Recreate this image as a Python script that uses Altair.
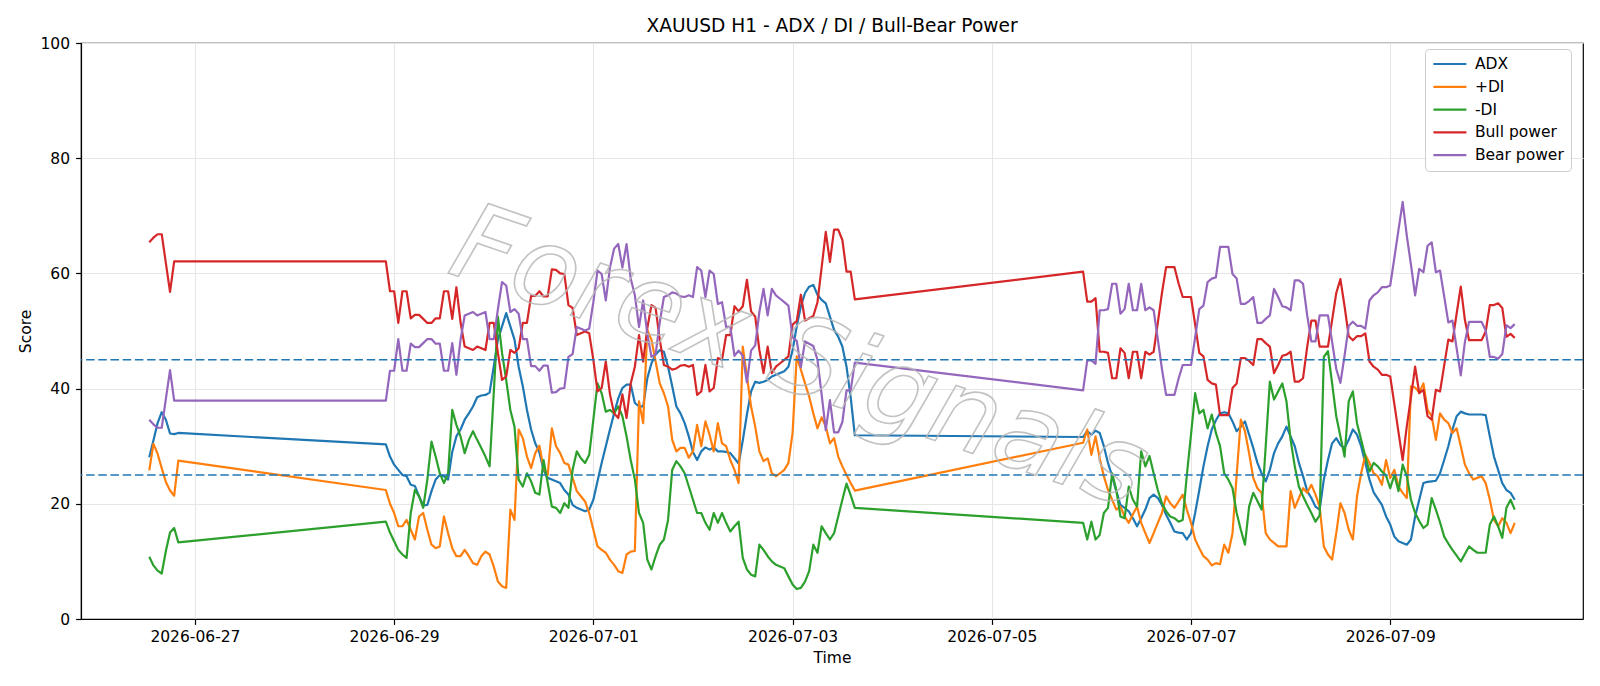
import altair as alt
import pandas as pd

SERIES = ["ADX", "+DI", "-DI", "Bull power", "Bear power"]
COLORS = ["#1f77b4", "#ff7f0e", "#2ca02c", "#d62728", "#9467bd"]

# First hourly bar (UTC) of each trading block; bars are consecutive hours.
SESSION_STARTS = ["2026-06-26T13:00:00Z", "2026-06-28T22:00:00Z", "2026-07-05T22:00:00Z"]

adx_1 = [28.1, 31.0, 34.0, 35.9, 34.6, 32.2, 32.1, 32.3]
adx_2 = [30.3, 28.2, 26.8, 25.9, 25.0, 24.8, 23.3, 23.1, 21.3, 19.7,
         19.8, 22.2, 24.2, 25.0, 24.8, 24.2, 29.0, 31.7, 32.9, 34.6,
         35.7, 36.9, 38.5, 38.8, 38.9, 39.3, 43.8, 48.5, 50.8, 53.1,
         50.8, 48.5, 43.8, 40.4, 36.3, 32.9, 30.5, 28.9, 25.9, 24.5,
         24.2, 23.9, 23.6, 22.4, 21.6, 19.8, 19.3, 19.0, 18.7, 19.0,
         20.7, 23.9, 27.1, 30.0, 32.9, 35.7, 38.3, 40.1, 40.7, 40.7,
         37.5, 36.9, 36.9, 41.8, 44.4, 45.9, 46.7, 46.4, 43.8, 40.4,
         36.9, 35.7, 34.0, 31.7, 29.0, 27.6, 29.1, 29.8, 29.4, 29.8,
         29.1, 29.1, 29.0, 28.8, 27.9, 27.0, 31.0, 35.5, 39.5, 41.2,
         41.0, 41.2, 41.5, 42.1, 42.4, 42.7, 43.0, 43.8, 46.7, 50.8,
         54.3, 56.6, 57.7, 58.0, 56.3, 55.4, 54.8, 52.5, 50.2, 49.0,
         47.3, 43.8, 38.5, 31.9]
adx_3 = [31.6, 32.6, 32.0, 32.7, 32.3, 30.0, 27.1, 24.8, 22.2, 19.8,
         19.3, 18.7, 17.5, 16.1, 17.5, 19.0, 21.0, 21.6, 21.0, 19.8,
         18.1, 16.7, 15.2, 15.0, 14.9, 13.8, 14.9, 18.4, 22.4, 26.5,
         30.0, 32.9, 34.5, 35.7, 35.9, 35.7, 34.3, 32.6, 33.4, 34.3,
         32.0, 29.7, 27.1, 25.3, 23.9, 25.9, 28.8, 30.5, 31.7, 33.4,
         31.7, 30.0, 27.1, 24.8, 22.2, 21.0, 19.5, 19.0, 24.2, 27.6,
         30.5, 31.4, 30.2, 29.7, 31.1, 32.9, 32.0, 30.0, 27.1, 24.2,
         22.0, 20.9, 19.8, 17.8, 16.4, 14.3, 13.5, 13.2, 12.9, 13.8,
         17.8, 20.7, 23.6, 23.8, 23.9, 24.0, 25.3, 27.6, 30.0, 32.9,
         35.2, 36.0, 35.7, 35.5, 35.5, 35.5, 35.5, 35.4, 31.7, 28.2,
         25.9, 23.6, 22.4, 21.9, 20.7]

pdi_1 = [25.8, 30.4, 28.7, 26.2, 23.8, 22.3, 21.4, 27.5]
pdi_2 = [22.4, 20.0, 18.4, 16.1, 16.1, 17.2, 15.5, 13.8, 17.8, 18.4,
         15.5, 12.9, 12.3, 12.6, 17.8, 14.9, 12.3, 10.9, 10.9, 12.0,
         10.9, 9.7, 9.4, 10.9, 11.7, 11.2, 9.1, 6.5, 5.7, 5.4,
         19.0, 17.2, 32.9, 31.4, 28.2, 26.2, 28.8, 30.1, 26.2, 25.0,
         33.1, 30.0, 28.8, 27.1, 26.8, 24.5, 22.2, 21.3, 20.4, 18.4,
         15.5, 12.6, 12.0, 11.5, 10.3, 9.4, 8.3, 8.0, 11.2, 11.7,
         11.8, 37.8, 34.0, 50.2, 48.5, 44.7, 40.9, 39.2, 36.9, 31.1,
         29.1, 29.7, 29.7, 28.0, 29.1, 33.7, 30.0, 34.3, 32.0, 29.1,
         34.0, 30.5, 30.0, 27.6, 25.9, 23.6, 47.3, 42.1, 36.9, 33.4,
         29.1, 27.4, 27.9, 25.3, 24.8, 25.3, 25.9, 27.1, 32.3, 45.6,
         43.3, 40.9, 38.6, 35.7, 33.1, 35.0, 33.4, 30.5, 31.4, 28.2,
         26.5, 25.0, 23.6, 22.3]
pdi_3 = [30.6, 32.9, 28.5, 31.7, 27.9, 24.8, 22.4, 20.7, 19.0, 19.5,
         17.8, 16.7, 18.2, 19.5, 16.7, 14.9, 13.2, 14.9, 16.7, 18.4,
         21.3, 20.1, 19.3, 20.4, 21.6, 19.0, 16.7, 13.8, 12.3, 10.9,
         10.3, 9.3, 9.7, 9.5, 12.9, 11.5, 14.9, 25.0, 34.6, 32.6,
         28.8, 24.5, 22.7, 21.9, 14.9, 13.8, 13.2, 12.6, 12.6, 12.6,
         22.2, 19.3, 21.0, 22.7, 21.9, 23.3, 21.6, 19.5, 12.6, 11.2,
         10.3, 14.9, 20.1, 18.4, 15.5, 13.8, 21.3, 25.3, 28.5, 27.1,
         25.3, 24.8, 23.3, 27.6, 24.5, 25.9, 23.0, 21.9, 21.0, 40.4,
         40.2, 39.3, 40.9, 36.3, 35.2, 31.1, 35.7, 34.6, 34.0, 32.3,
         33.1, 30.0, 26.8, 25.3, 24.2, 24.5, 24.8, 23.6, 20.7, 17.2,
         16.1, 17.5, 16.7, 14.9, 16.7]

mdi_1 = [10.8, 9.3, 8.4, 7.9, 11.8, 15.0, 15.8, 13.3]
mdi_2 = [16.9, 15.0, 13.5, 12.0, 11.2, 10.6, 18.4, 22.4, 21.3, 19.3,
         24.2, 30.8, 28.2, 25.3, 23.6, 25.3, 36.3, 33.7, 31.7, 28.8,
         31.1, 32.6, 31.1, 29.7, 28.2, 26.5, 39.2, 52.5, 46.2, 41.5,
         36.3, 33.4, 24.2, 23.0, 25.3, 23.9, 21.9, 21.6, 27.6, 23.6,
         19.5, 19.3, 18.4, 20.1, 19.3, 25.9, 29.1, 27.9, 27.1, 28.5,
         34.6, 40.9, 39.2, 36.0, 36.3, 35.7, 36.9, 35.2, 31.7, 27.6,
         24.2, 18.4, 16.7, 10.3, 8.6, 10.9, 12.9, 13.8, 17.2, 25.9,
         27.4, 26.5, 25.3, 23.0, 20.7, 18.4, 18.4, 16.7, 15.5, 18.4,
         16.7, 18.4, 16.7, 15.2, 16.1, 16.9, 10.6, 8.6, 7.7, 7.4,
         12.9, 12.0, 10.9, 10.0, 9.4, 9.1, 8.8, 7.4, 6.0, 5.2,
         5.4, 6.5, 8.3, 12.9, 11.5, 16.1, 14.9, 13.8, 14.9, 17.8,
         20.7, 23.5, 21.5, 19.3]
mdi_3 = [16.7, 13.8, 16.9, 13.8, 14.6, 18.4, 19.3, 25.3, 22.4, 17.8,
         17.5, 23.0, 20.7, 19.5, 29.1, 26.5, 28.3, 25.3, 22.4, 20.1,
         18.7, 17.8, 17.5, 16.9, 17.2, 25.0, 32.0, 39.2, 35.7, 36.3,
         33.1, 35.5, 32.3, 30.0, 25.3, 24.2, 22.7, 18.4, 15.5, 12.9,
         19.5, 21.9, 20.5, 19.0, 30.0, 41.2, 38.1, 39.5, 40.9, 37.8,
         31.1, 26.5, 23.0, 21.3, 19.8, 18.4, 16.9, 18.0, 45.5, 46.5,
         40.9, 35.2, 31.7, 28.2, 37.8, 39.5, 34.0, 31.1, 28.2, 25.6,
         27.1, 26.5, 25.6, 24.9, 22.7, 25.0, 22.2, 26.8, 24.8, 20.7,
         18.4, 17.0, 15.8, 16.4, 21.0, 19.0, 16.8, 14.3, 13.1, 12.0,
         11.0, 10.0, 11.3, 12.6, 12.0, 11.5, 11.5, 11.5, 16.4, 17.8,
         16.1, 14.1, 19.3, 20.7, 19.0]

bull_1 = [65.4, 66.2, 66.8, 66.8, 61.8, 56.8, 62.1, 62.1]
bull_2 = [62.1, 56.9, 56.9, 51.4, 56.9, 56.9, 52.2, 52.8, 52.8, 52.1,
          51.4, 51.4, 52.2, 52.2, 56.9, 56.9, 52.1, 57.6, 51.5, 47.3,
          47.0, 46.7, 47.3, 47.0, 46.7, 51.4, 51.4, 46.2, 41.5, 42.1,
          46.7, 46.2, 47.0, 51.4, 51.4, 56.1, 56.1, 56.9, 56.0, 56.0,
          60.7, 60.6, 60.0, 59.9, 54.5, 54.0, 49.3, 49.6, 49.9, 49.6,
          45.0, 39.5, 40.1, 44.7, 39.0, 35.7, 34.9, 39.0, 34.9, 40.9,
          43.8, 49.3, 44.7, 50.5, 54.5, 54.0, 48.5, 44.1, 43.8, 43.3,
          43.5, 44.0, 44.1, 43.8, 44.1, 38.9, 39.5, 44.1, 39.5, 40.1,
          45.3, 45.0, 49.3, 49.3, 54.3, 53.4, 54.3, 58.9, 53.4, 52.5,
          46.7, 42.7, 47.3, 42.7, 43.8, 44.4, 45.0, 45.6, 51.1, 51.7,
          56.3, 51.8, 52.2, 52.6, 55.0, 61.0, 67.2, 62.0, 67.6, 67.6,
          65.8, 60.3, 60.3, 55.5]
bull_3 = [60.3, 55.1, 55.1, 55.7, 46.4, 46.4, 46.2, 41.8, 41.8, 47.0,
          46.2, 41.8, 46.4, 46.4, 41.8, 46.4, 45.9, 46.4, 51.4, 56.6,
          61.1, 61.1, 61.1, 58.3, 55.9, 55.9, 55.9, 51.1, 46.2, 45.6,
          41.5, 40.9, 40.7, 35.4, 35.4, 35.4, 40.1, 40.9, 45.3, 45.3,
          44.8, 44.1, 48.6, 48.6, 47.9, 47.3, 42.7, 44.1, 45.7, 45.9,
          46.4, 41.2, 41.2, 41.8, 47.3, 51.8, 51.8, 47.3, 47.3, 47.3,
          51.9, 56.6, 59.0, 54.3, 49.1, 48.4, 49.1, 49.1, 49.6, 44.7,
          43.8, 43.3, 42.4, 42.4, 42.1, 37.3, 32.4, 27.6, 33.5, 38.5,
          43.8, 39.2, 39.8, 35.2, 34.6, 39.8, 39.5, 44.0, 48.5, 48.2,
          53.0, 57.7, 51.9, 48.4, 48.4, 48.4, 48.4, 49.9, 54.5, 54.5,
          54.8, 54.0, 49.0, 49.5, 48.8]

bear_1 = [34.6, 33.8, 33.2, 33.2, 38.2, 43.2, 37.9, 37.9]
bear_2 = [37.9, 43.1, 43.1, 48.6, 43.1, 43.1, 47.8, 47.2, 47.2, 47.9,
          48.6, 48.6, 47.8, 47.8, 43.1, 43.1, 47.9, 42.4, 48.5, 52.7,
          53.0, 53.3, 52.7, 53.0, 53.3, 48.6, 48.6, 53.8, 58.5, 57.9,
          53.3, 53.8, 53.0, 48.6, 48.6, 43.9, 43.9, 43.1, 44.0, 44.0,
          39.3, 39.4, 40.0, 40.1, 45.5, 46.0, 50.7, 50.4, 50.1, 50.4,
          55.0, 60.5, 59.9, 55.3, 61.0, 64.3, 65.1, 61.0, 65.1, 59.1,
          56.2, 50.7, 55.3, 49.5, 45.5, 46.0, 51.5, 55.9, 56.2, 56.7,
          56.5, 56.0, 55.9, 56.2, 55.9, 61.1, 60.5, 55.9, 60.5, 59.9,
          54.7, 55.0, 50.7, 50.7, 45.7, 46.6, 45.7, 41.1, 46.6, 47.5,
          53.3, 57.3, 52.7, 57.3, 56.2, 55.6, 55.0, 54.4, 48.9, 48.3,
          43.7, 48.2, 47.8, 47.4, 45.0, 39.0, 32.8, 38.0, 32.4, 32.4,
          34.2, 39.7, 39.7, 44.5]
bear_3 = [39.7, 44.9, 44.9, 44.3, 53.6, 53.6, 53.8, 58.2, 58.2, 53.0,
          53.8, 58.2, 53.6, 53.6, 58.2, 53.6, 54.1, 53.6, 48.6, 43.4,
          38.9, 38.9, 38.9, 41.7, 44.1, 44.1, 44.1, 48.9, 53.8, 54.4,
          58.5, 59.1, 59.3, 64.6, 64.6, 64.6, 59.9, 59.1, 54.7, 54.7,
          55.2, 55.9, 51.4, 51.4, 52.1, 52.7, 57.3, 55.9, 54.3, 54.1,
          53.6, 58.8, 58.8, 58.2, 52.7, 48.2, 48.2, 52.7, 52.7, 52.7,
          48.1, 43.4, 41.0, 45.7, 50.9, 51.6, 50.9, 50.9, 50.4, 55.3,
          56.2, 56.7, 57.6, 57.6, 57.9, 62.7, 67.6, 72.4, 66.5, 61.5,
          56.2, 60.8, 60.2, 64.8, 65.4, 60.2, 60.5, 56.0, 51.5, 51.8,
          47.0, 42.3, 48.1, 51.6, 51.6, 51.6, 51.6, 50.1, 45.5, 45.5,
          45.2, 46.0, 51.0, 50.5, 51.2]

THRESHOLDS = [45, 25]
TICK_DATES = [(6, 27), (6, 29), (7, 1), (7, 3), (7, 5), (7, 7), (7, 9)]

# faint brand mark laid diagonally across the middle of the plot
WATERMARK = "Forex Signals"
WATERMARK_AT = {"time": "2026-07-03T01:30:00Z", "value": 45.0}

blocks = {
    "ADX": [adx_1, adx_2, adx_3],
    "+DI": [pdi_1, pdi_2, pdi_3],
    "-DI": [mdi_1, mdi_2, mdi_3],
    "Bull power": [bull_1, bull_2, bull_3],
    "Bear power": [bear_1, bear_2, bear_3],
}

rows = []
for name in SERIES:
    for start, vals in zip(SESSION_STARTS, blocks[name]):
        stamps = pd.date_range(start, periods=len(vals), freq="h")
        for t, v in zip(stamps, vals):
            rows.append({"time": t.strftime("%Y-%m-%dT%H:%M:%SZ"), "series": name, "value": v})
df = pd.DataFrame(rows)

FONT = "DejaVu Sans"
LABEL_SIZE = 15.5

x_scale = alt.Scale(
    type="utc",
    domain=[alt.DateTime(year=2026, month=6, date=25, hours=20, minutes=33, utc=True),
            alt.DateTime(year=2026, month=7, date=10, hours=22, minutes=27, utc=True)],
)
x_axis = alt.Axis(
    values=[alt.DateTime(year=2026, month=m, date=d, utc=True) for m, d in TICK_DATES],
    labelExpr="utcFormat(datum.value, '%Y-%m-%d')",
    labelAngle=0, labelFlush=False, labelOverlap=False,
    labelFont=FONT, labelFontSize=LABEL_SIZE, labelColor="black", labelPadding=5,
    tickColor="black", tickSize=5.4, tickWidth=1.2, domainColor="black", domainWidth=1.2,
    grid=True, gridColor="#e6e6e6", gridWidth=1.1,
    titleFont=FONT, titleFontSize=LABEL_SIZE, titleFontWeight="normal", titleColor="black",
    titlePadding=6,
)
y_axis = alt.Axis(
    values=[0, 20, 40, 60, 80, 100],
    labelFont=FONT, labelFontSize=LABEL_SIZE, labelColor="black", labelPadding=6,
    tickColor="black", tickSize=5.4, tickWidth=1.2, domainColor="black", domainWidth=1.2,
    grid=True, gridColor="#e6e6e6", gridWidth=1.1,
    titleFont=FONT, titleFontSize=LABEL_SIZE, titleFontWeight="normal", titleColor="black",
    titlePadding=7,
)
y_scale = alt.Scale(domain=[0, 100], nice=False, zero=False)

lines = alt.Chart(df).mark_line(strokeWidth=2.2, strokeJoin="round").encode(
    x=alt.X("time:T", scale=x_scale, axis=x_axis, title="Time"),
    y=alt.Y("value:Q", scale=y_scale, axis=y_axis, title="Score"),
    color=alt.Color(
        "series:N",
        scale=alt.Scale(domain=SERIES, range=COLORS),
        legend=alt.Legend(
            title=None, orient="none", legendX=1344, legendY=6,
            # short-sized horizontal path keeps the rows compact while the
            # drawn line stays about two em long
            symbolType="M-2.5,0H2.5", symbolSize=174, symbolStrokeWidth=2.2,
            symbolOffset=9.9,
            labelFont=FONT, labelFontSize=LABEL_SIZE, labelColor="black",
            labelOffset=17, rowPadding=5.8, padding=7, labelLimit=300,
            strokeColor="#cccccc", fillColor="rgba(255,255,255,0.8)", cornerRadius=4,
        ),
    ),
)

levels = alt.Chart(pd.DataFrame({"level": THRESHOLDS})).mark_rule(
    color="#1f77b4", strokeWidth=1.6, strokeDash=[8.5, 3.7]
).encode(y=alt.Y("level:Q", scale=y_scale, title="Score"))

mark = alt.Chart(pd.DataFrame([{**WATERMARK_AT, "label": WATERMARK}])).mark_text(
    font=FONT, fontSize=108, fontStyle="italic", angle=19,
    align="center", baseline="middle",
    fill="transparent", stroke="#b8b8b8", strokeWidth=1.6, opacity=0.85,
).encode(
    x=alt.X("time:T", scale=x_scale, title="Time"),
    y=alt.Y("value:Q", scale=y_scale, title="Score"),
    text="label:N",
)

chart = alt.layer(lines, levels, mark).properties(
    width=1502,
    height=576,
    title=alt.TitleParams(
        "XAUUSD H1 - ADX / DI / Bull-Bear Power",
        font=FONT, fontSize=18.6, fontWeight="normal", color="black",
        anchor="middle", offset=0,
    ),
    padding={"left": 81, "top": 43, "right": 17, "bottom": 67},
    autosize=alt.AutoSizeParams(type="none"),
).configure(font=FONT).configure_view(stroke="black", strokeWidth=1.2)

chart.save("out.html", embed_options={"renderer": "svg", "actions": False})
